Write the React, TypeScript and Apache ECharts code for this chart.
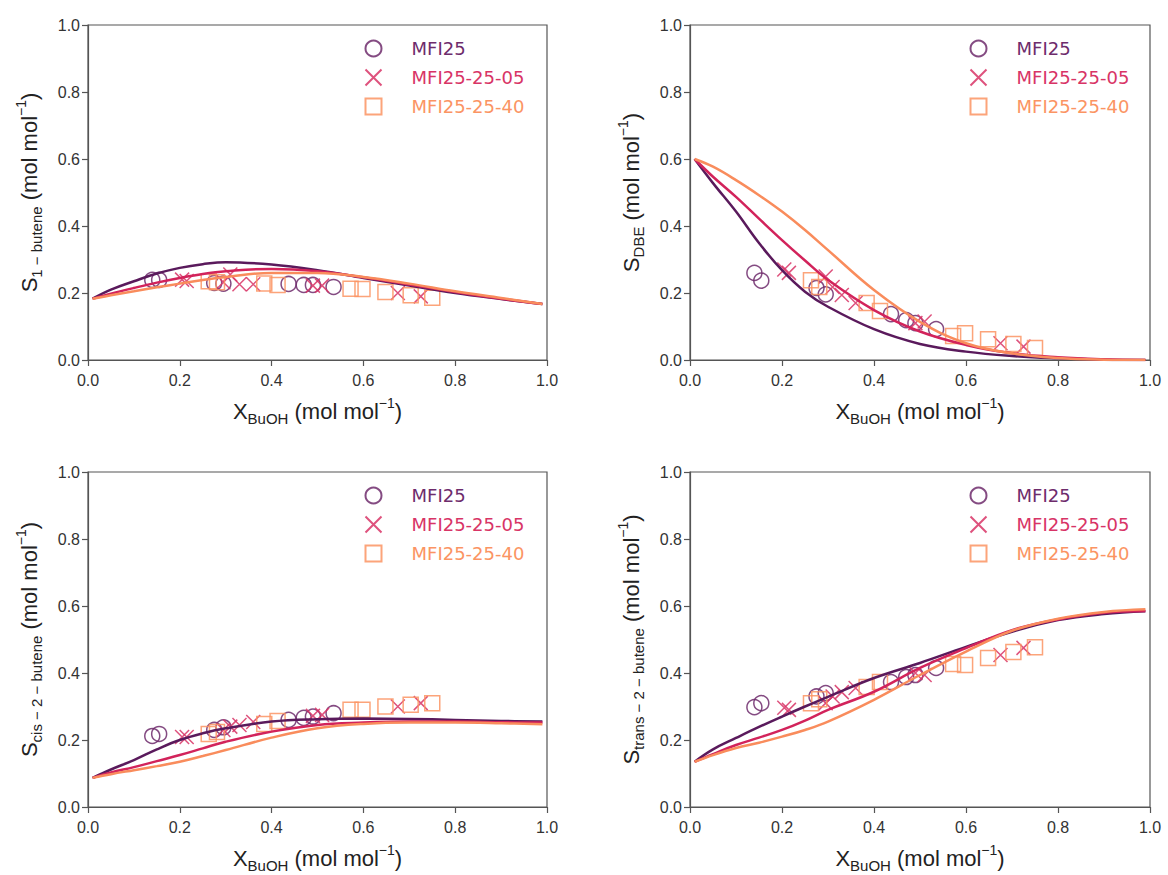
import React, { useEffect, useRef } from "react";
import * as echarts from "echarts";

// ---------- data ----------
const SERIES_NAMES = ["MFI25", "MFI25-25-05", "MFI25-25-40"];
const LINE_COLORS = ["#5a1a5c", "#d2235b", "#f98c5c"];
const MARK_COLORS = ["#6e2c6c", "#d83466", "#fb9463"];

// measured points (x values shared across panels)
const X_MFI25 = [0.14, 0.155, 0.275, 0.295, 0.437, 0.47, 0.49, 0.535];
const X_05 = [0.205, 0.215, 0.295, 0.31, 0.33, 0.36, 0.49, 0.51, 0.675, 0.725];
const X_40 = [0.263, 0.281, 0.384, 0.413, 0.572, 0.598, 0.648, 0.703, 0.75];

const Y1_MFI25 = [0.239, 0.239, 0.23, 0.228, 0.227, 0.224, 0.224, 0.218];
const Y1_05 = [0.24, 0.236, 0.232, 0.255, 0.226, 0.226, 0.222, 0.222, 0.2, 0.19];
const Y1_40 = [0.235, 0.232, 0.228, 0.224, 0.213, 0.212, 0.203, 0.193, 0.186];

const Y2_MFI25 = [0.26, 0.237, 0.215, 0.196, 0.137, 0.119, 0.11, 0.092];
const Y2_05 = [0.27, 0.26, 0.249, 0.218, 0.194, 0.17, 0.11, 0.115, 0.05, 0.04];
const Y2_40 = [0.238, 0.218, 0.17, 0.146, 0.072, 0.08, 0.062, 0.048, 0.036];

const Y3_MFI25 = [0.212, 0.218, 0.23, 0.238, 0.26, 0.266, 0.27, 0.28];
const Y3_05 = [0.209, 0.209, 0.23, 0.24, 0.245, 0.254, 0.272, 0.275, 0.3, 0.31];
const Y3_40 = [0.218, 0.224, 0.248, 0.257, 0.29, 0.29, 0.3, 0.305, 0.31];

const Y4_MFI25 = [0.298, 0.31, 0.33, 0.34, 0.373, 0.388, 0.394, 0.415];
const Y4_05 = [0.296, 0.29, 0.31, 0.33, 0.343, 0.355, 0.4, 0.394, 0.454, 0.475];
const Y4_40 = [0.31, 0.322, 0.358, 0.373, 0.427, 0.424, 0.445, 0.463, 0.477];

// model curves
const XC = [0.01, 0.05, 0.1, 0.15, 0.2, 0.25, 0.3, 0.4, 0.5, 0.6, 0.7, 0.8, 0.9, 0.99];

const C1_MFI25 = [0.183, 0.21, 0.235, 0.258, 0.275, 0.286, 0.292, 0.285, 0.268, 0.245, 0.222, 0.2, 0.182, 0.167];
const C1_05 = [0.183, 0.198, 0.215, 0.231, 0.245, 0.257, 0.265, 0.272, 0.265, 0.247, 0.225, 0.203, 0.183, 0.167];
const C1_40 = [0.183, 0.193, 0.205, 0.217, 0.228, 0.239, 0.248, 0.26, 0.26, 0.248, 0.228, 0.205, 0.185, 0.167];

const C2_MFI25 = [0.6, 0.528, 0.443, 0.349, 0.268, 0.204, 0.159, 0.092, 0.048, 0.025, 0.012, 0.005, 0.001, 0.0];
const C2_05 = [0.6, 0.547, 0.487, 0.422, 0.358, 0.297, 0.239, 0.149, 0.085, 0.045, 0.02, 0.008, 0.002, 0.0];
const C2_40 = [0.6, 0.577, 0.537, 0.492, 0.443, 0.388, 0.328, 0.209, 0.114, 0.05, 0.02, 0.006, 0.001, 0.0];

const C3_MFI25 = [0.087, 0.112, 0.14, 0.172, 0.2, 0.22, 0.235, 0.255, 0.262, 0.264, 0.263, 0.26, 0.257, 0.255];
const C3_05 = [0.087, 0.103, 0.119, 0.137, 0.155, 0.175, 0.195, 0.225, 0.245, 0.252, 0.255, 0.255, 0.253, 0.252];
const C3_40 = [0.087, 0.098, 0.11, 0.122, 0.135, 0.152, 0.17, 0.207, 0.235, 0.248, 0.252, 0.252, 0.25, 0.247];

const C4_MFI25 = [0.135, 0.172, 0.206, 0.239, 0.27, 0.3, 0.329, 0.385, 0.43, 0.478, 0.523, 0.558, 0.576, 0.584];
const C4_05 = [0.135, 0.158, 0.185, 0.207, 0.23, 0.258, 0.29, 0.344, 0.415, 0.474, 0.528, 0.56, 0.58, 0.585];
const C4_40 = [0.135, 0.155, 0.176, 0.192, 0.21, 0.23, 0.255, 0.32, 0.394, 0.464, 0.526, 0.562, 0.582, 0.59];

const X_TICK_LABELS = ["0.0", "0.2", "0.4", "0.6", "0.8", "1.0"];

const PANELS = [
  { sub: "1 − butene", pts: [Y1_MFI25, Y1_05, Y1_40], curves: [C1_MFI25, C1_05, C1_40] },
  { sub: "DBE", pts: [Y2_MFI25, Y2_05, Y2_40], curves: [C2_MFI25, C2_05, C2_40] },
  { sub: "cis − 2 − butene", pts: [Y3_MFI25, Y3_05, Y3_40], curves: [C3_MFI25, C3_05, C3_40] },
  { sub: "trans − 2 − butene", pts: [Y4_MFI25, Y4_05, Y4_40], curves: [C4_MFI25, C4_05, C4_40] },
];

const GRIDS = [
  { left: 88, top: 25, width: 459, height: 335 },
  { left: 690, top: 25, width: 460, height: 335 },
  { left: 88, top: 472, width: 459, height: 335 },
  { left: 690, top: 472, width: 460, height: 335 },
];

const SYMBOLS = ["circle", "path://M0,0L10,10M10,0L0,10", "path://M0,0L10,0L10,10L0,10Z"];
const XS = [X_MFI25, X_05, X_40];

const AXIS_COLOR = "#555";
const LABEL_FONT = "Liberation Sans, Arial, sans-serif";

const richName = {
  m: { fontSize: 22, fontFamily: LABEL_FONT, color: "#222", lineHeight: 30 },
  s: { fontSize: 15, fontFamily: LABEL_FONT, color: "#222", lineHeight: 15, verticalAlign: "bottom" as const },
  p: { fontSize: 14, fontFamily: LABEL_FONT, color: "#222", lineHeight: 14, verticalAlign: "top" as const },
};

export default function App() {
  const ref = useRef<HTMLDivElement>(null);
  useEffect(() => {
    if (!ref.current) return;
    const chart = echarts.init(ref.current, undefined, { renderer: "svg" });

    const grid = GRIDS.map((g) => ({ ...g, show: true, borderColor: AXIS_COLOR, borderWidth: 1.2, backgroundColor: "transparent" }));

    const xAxis = GRIDS.map((_, i) => ({
      type: "value",
      gridIndex: i,
      min: 0,
      max: 1,
      interval: 0.2,
      name: "{m|X}{s|BuOH}{m| (mol mol}{p|−1}{m|)}",
      nameLocation: "middle",
      nameGap: 36,
      nameTextStyle: { rich: richName },
      axisLine: { show: true, lineStyle: { color: AXIS_COLOR, width: 1.2 } },
      axisTick: { show: true, inside: false, length: 6, lineStyle: { color: AXIS_COLOR, width: 1.2 } },
      axisLabel: {
        fontSize: 16,
        fontFamily: LABEL_FONT,
        color: "#333",
        margin: 12,
        formatter: (v: number) => X_TICK_LABELS[Math.round(v / 0.2)] ?? v.toFixed(1),
      },
      splitLine: { show: false },
    }));

    const yAxis = PANELS.map((p, i) => ({
      type: "value",
      gridIndex: i,
      min: 0,
      max: 1,
      interval: 0.2,
      name: `{m|S}{s|${p.sub}}{m| (mol mol}{p|−1}{m|)}`,
      nameLocation: "middle",
      nameGap: 44,
      nameTextStyle: { rich: richName },
      axisLine: { show: true, lineStyle: { color: AXIS_COLOR, width: 1.2 } },
      axisTick: { show: true, inside: false, length: 6, lineStyle: { color: AXIS_COLOR, width: 1.2 } },
      axisLabel: {
        fontSize: 16,
        fontFamily: LABEL_FONT,
        color: "#333",
        margin: 8,
        formatter: (v: number) => v.toFixed(1),
      },
      splitLine: { show: false },
    }));

    const series: any[] = [];
    PANELS.forEach((p, i) => {
      for (let k = 0; k < 3; k++) {
        series.push({
          type: "scatter",
          name: SERIES_NAMES[k],
          xAxisIndex: i,
          yAxisIndex: i,
          symbol: SYMBOLS[k],
          symbolKeepAspect: true,
          symbolSize: k === 1 ? 14 : 15,
          data: XS[k].map((x, j) => [x, p.pts[k][j]]),
          itemStyle: { color: "none", borderColor: MARK_COLORS[k], borderWidth: 1.5, opacity: 0.85 },
          z: 2,
        });
      }
      for (let k = 0; k < 3; k++) {
        series.push({
          type: "line",
          name: SERIES_NAMES[k] + " model",
          xAxisIndex: i,
          yAxisIndex: i,
          smooth: 0.4,
          showSymbol: false,
          symbol: "none",
          data: XC.map((x, j) => [x, p.curves[k][j]]),
          lineStyle: { color: LINE_COLORS[k], width: 2.5 },
          itemStyle: { color: LINE_COLORS[k] },
          z: 3,
        });
      }
    });

    const legendPos = [
      { left: 363, top: 38 },
      { left: 968, top: 38 },
      { left: 363, top: 485 },
      { left: 968, top: 485 },
    ];
    const legend = legendPos.map((pos) => ({
      ...pos,
      padding: 0,
      orient: "vertical",
      itemWidth: 60,
      itemHeight: 16,
      itemGap: 8,
      selectedMode: false,
      data: SERIES_NAMES.map((n, k) => ({
        name: n,
        textStyle: { color: MARK_COLORS[k] },
      })),
      textStyle: { fontSize: 18, fontFamily: "DejaVu Sans, sans-serif", padding: [0, 0, 0, 3] },
    }));

    chart.setOption({
      animation: false,
      backgroundColor: "#ffffff",
      grid,
      xAxis,
      yAxis,
      legend,
      series,
    });
    return () => chart.dispose();
  }, []);

  return (
    <div
      ref={ref}
      style={{ position: "fixed", left: 0, top: 0, width: 1168, height: 875, background: "#fff" }}
    />
  );
}
